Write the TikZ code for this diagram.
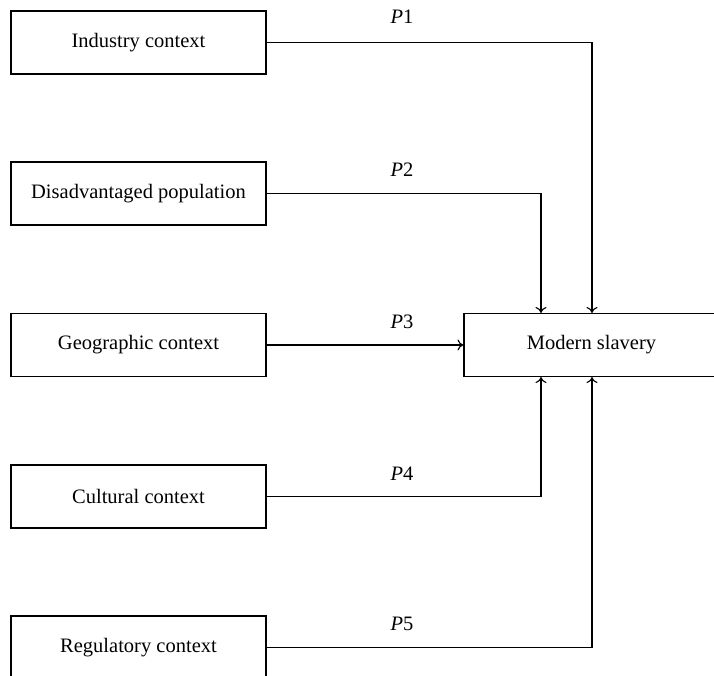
\documentclass[tikz,border=0pt]{standalone}
\usepackage{fontspec}
\setmainfont{Liberation Serif}
\usetikzlibrary{arrows.meta}
\begin{document}
\begin{tikzpicture}[x=1pt,y=-1pt,
  box/.style={draw,line width=1.1pt,minimum width=255pt,minimum height=63pt,inner sep=0pt,font=\fontsize{20.5}{24}\selectfont},
  conn/.style={line width=1.1pt,-{To[length=6pt,width=11pt]}},
  lab/.style={font=\fontsize{20.5}{24}\selectfont}]
\useasboundingbox (0,0) rectangle (714,675);
\begin{scope}
\clip (0,0) rectangle (714,675);
\node[box] (ind) at (138.5,42.5) {Industry context};
\node[box] (dis) at (138.5,193.5) {Disadvantaged population};
\node[box] (geo) at (138.5,345) {Geographic context};
\node[box] (cul) at (138.5,496.5) {Cultural context};
\node[box] (reg) at (138.5,647.5) {Regulatory context};
\node[box] (ms) at (591.5,345) {Modern slavery};
\coordinate (c1) at (592,42.5);
\coordinate (c2) at (541,193.5);
\coordinate (c4) at (541,496.5);
\coordinate (c5) at (592,647.5);
\draw[conn] (ind.east) -- (c1) -- (c1 |- ms.north);
\draw[conn] (dis.east) -- (c2) -- (c2 |- ms.north);
\draw[conn] (geo.east) -- (ms.west);
\draw[conn] (cul.east) -- (c4) -- (c4 |- ms.south);
\draw[conn] (reg.east) -- (c5) -- (c5 |- ms.south);
\node[lab] (p1) at (402,17) {\textit{P}1};
\node[lab] (p2) at (402,170) {\textit{P}2};
\node[lab] (p3) at (402,322) {\textit{P}3};
\node[lab] (p4) at (402,474) {\textit{P}4};
\node[lab] (p5) at (402,624) {\textit{P}5};
\end{scope}
\end{tikzpicture}
\end{document}
